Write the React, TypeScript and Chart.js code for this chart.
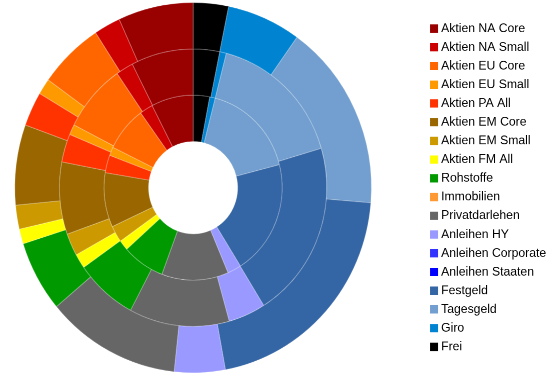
import React, { useEffect, useRef } from 'react';
import { Chart, registerables, DoughnutController } from 'chart.js';

Chart.register(...registerables);

// Categories in legend order
const categories = [
  'Aktien NA Core',
  'Aktien NA Small',
  'Aktien EU Core',
  'Aktien EU Small',
  'Aktien PA All',
  'Aktien EM Core',
  'Aktien EM Small',
  'Aktien FM All',
  'Rohstoffe',
  'Immobilien',
  'Privatdarlehen',
  'Anleihen HY',
  'Anleihen Corporate',
  'Anleihen Staaten',
  'Festgeld',
  'Tagesgeld',
  'Giro',
  'Frei',
];

const colors = [
  '#990000',
  '#cc0000',
  '#ff6600',
  '#ff9900',
  '#ff3300',
  '#996600',
  '#cc9900',
  '#ffff00',
  '#009900',
  '#ff9933',
  '#666666',
  '#9999ff',
  '#3333ff',
  '#0000ff',
  '#3465a4',
  '#729fcf',
  '#0084d1',
  '#000000',
];

// Shares in percent, legend order
const outerRing = [6.8, 2.4, 5.9, 1.4, 3.0, 7.0, 2.1, 1.3, 6.2, 0, 12.2, 4.6, 0, 0, 20.8, 16.4, 6.7, 3.2];
const middleRing = [7.5, 2.1, 7.9, 1.2, 3.3, 8.4, 2.6, 1.7, 7.5, 0, 12.1, 4.5, 0, 0, 20.7, 16.4, 0.8, 3.2];
const innerRing = [7.6, 2.4, 7.8, 1.5, 3.1, 9.5, 2.9, 1.8, 7.7, 0, 12.1, 2.5, 0, 0, 20.1, 17.0, 1.0, 3.0];

function rev(a: any[]): any[] {
  return a.slice().reverse();
}

const CANVAS_W = 598;
const CANVAS_H = 368;

export default function App() {
  const ref = useRef<HTMLCanvasElement>(null);

  useEffect(() => {
    if (!ref.current) return;
    const ds = (values: number[]) => ({
      data: rev(values),
      backgroundColor: rev(colors),
      borderColor: 'rgba(255,255,255,0.2)',
      borderWidth: 1,
    });
    const baseGen = (DoughnutController as any).overrides.plugins.legend.labels.generateLabels;
    const chart = new Chart(ref.current, {
      type: 'doughnut',
      data: {
        labels: rev(categories),
        datasets: [ds(outerRing), ds(middleRing), ds(innerRing)],
      },
      options: {
        responsive: false,
        animation: false,
        devicePixelRatio: 2,
        radius: 178.3,
        cutout: '25%',
        layout: { padding: { left: 0, right: 0.84, top: 0, bottom: 6.4 } },
        plugins: {
          legend: {
            position: 'right',
            reverse: true,
            maxWidth: 129,
            labels: {
              usePointStyle: true,
              pointStyle: 'rect',
              boxWidth: 2,
              boxHeight: 8,
              padding: 5.84,
              color: '#000000',
              font: { family: "'Liberation Sans', Arial, sans-serif", size: 12.2 },
              generateLabels: (c: any) =>
                baseGen(c).map((l: any) => ({ ...l, lineWidth: 0 })),
            },
          },
          tooltip: { enabled: false },
        },
      } as any,
    });
    return () => chart.destroy();
  }, []);

  return (
    <div
      style={{
        position: 'fixed',
        left: 557 - CANVAS_W,
        top: 0,
        width: CANVAS_W,
        height: CANVAS_H,
        transform: `scaleY(${382 / CANVAS_H})`,
        transformOrigin: '0 0',
      }}
    >
      <canvas
        ref={ref}
        width={CANVAS_W}
        height={CANVAS_H}
        style={{ width: CANVAS_W, height: CANVAS_H, display: 'block' }}
      />
    </div>
  );
}
